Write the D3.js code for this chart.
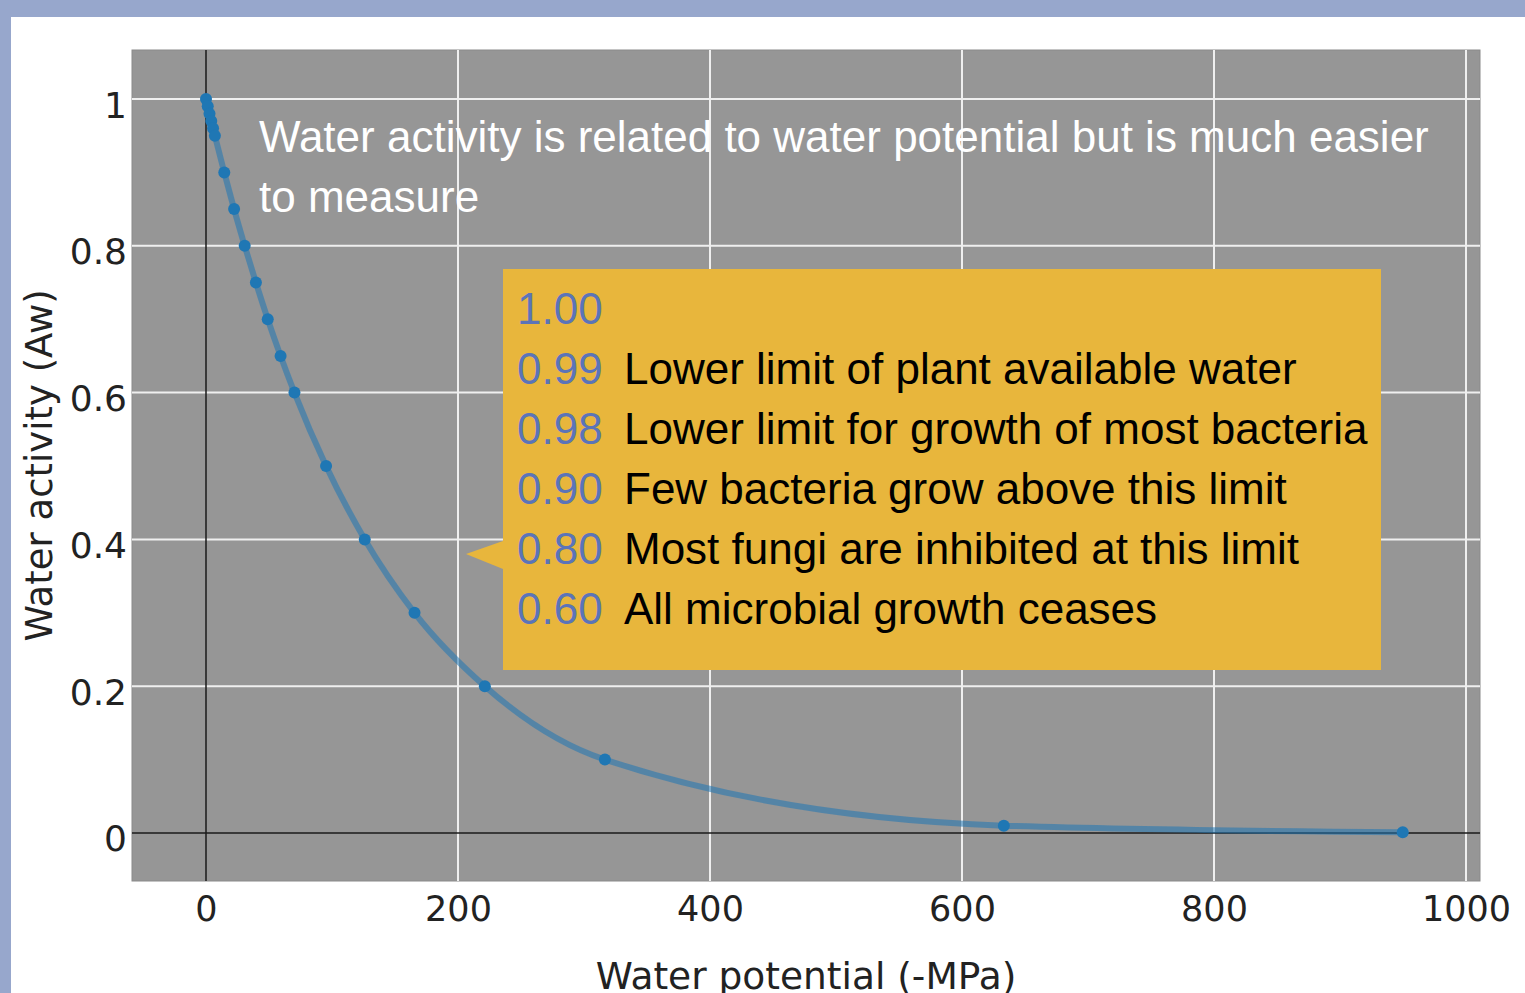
<!DOCTYPE html>
<html>
<head>
<meta charset="utf-8">
<script src="https://cdn.jsdelivr.net/npm/d3@7"></script>
<style>
  html, body { margin: 0; padding: 0; background: #97a7cc; }
  svg { display: block; }
</style>
</head>
<body>
<svg id="chart" width="1525" height="993"></svg>
<script>
// ---- Data ----
const waterPotential = [0, 1.38, 2.78, 4.19, 5.61, 7.05, 14.5, 22.3, 30.7, 39.6, 49.0, 59.2, 70.2, 95.3, 126.0, 165.5, 221.3, 316.6, 633.2, 949.8];
const waterActivity  = [1.00, 0.99, 0.98, 0.97, 0.96, 0.95, 0.90, 0.85, 0.80, 0.75, 0.70, 0.65, 0.60, 0.50, 0.40, 0.30, 0.20, 0.10, 0.01, 0.001];
const xTicks = [0, 200, 400, 600, 800, 1000];
const yTicks = [0, 0.2, 0.4, 0.6, 0.8, 1];
const yTickLabels = ["0", "0.2", "0.4", "0.6", "0.8", "1"];
const titleLines = ["Water activity is related to water potential but is much easier", "to measure"];
const boxValues = ["1.00", "0.99", "0.98", "0.90", "0.80", "0.60"];
const boxNotes = ["", "Lower limit of plant available water", "Lower limit for growth of most bacteria", "Few bacteria grow above this limit", "Most fungi are inhibited at this limit", "All microbial growth ceases"];

// ---- Layout ----
const svg = d3.select("#chart");
const plot = { left: 132, right: 1480, top: 50, bottom: 881 };

svg.append("rect").attr("x", 11).attr("y", 17).attr("width", 1525 - 11).attr("height", 993 - 17).attr("fill", "#ffffff");

const x = d3.scaleLinear().domain([-58.73, 1011.11]).range([plot.left, plot.right]);
const y = d3.scaleLinear().domain([1.06676, -0.06540]).range([plot.top, plot.bottom]);

svg.append("rect")
  .attr("x", plot.left).attr("y", plot.top)
  .attr("width", plot.right - plot.left).attr("height", plot.bottom - plot.top)
  .attr("fill", "#969696").attr("stroke", "#8a8a8a").attr("stroke-width", 1);

const clipId = "plotclip";
svg.append("clipPath").attr("id", clipId).append("rect")
  .attr("x", plot.left).attr("y", plot.top)
  .attr("width", plot.right - plot.left).attr("height", plot.bottom - plot.top);

// grid
const grid = svg.append("g");
grid.selectAll(".gx").data(xTicks.filter(d => d !== 0)).enter().append("line")
  .attr("x1", d => x(d)).attr("x2", d => x(d))
  .attr("y1", plot.top).attr("y2", plot.bottom)
  .attr("stroke", "#efefef").attr("stroke-width", 2);
grid.selectAll(".gy").data(yTicks.filter(d => d !== 0)).enter().append("line")
  .attr("y1", d => y(d)).attr("y2", d => y(d))
  .attr("x1", plot.left).attr("x2", plot.right)
  .attr("stroke", "#efefef").attr("stroke-width", 2);
// zero lines
grid.append("line").attr("x1", x(0)).attr("x2", x(0)).attr("y1", plot.top).attr("y2", plot.bottom)
  .attr("stroke", "#1a1a1a").attr("stroke-width", 1.5);
grid.append("line").attr("y1", y(0)).attr("y2", y(0)).attr("x1", plot.left).attr("x2", plot.right)
  .attr("stroke", "#1a1a1a").attr("stroke-width", 1.5);

// axes tick labels
const tickFont = "'DejaVu Sans', sans-serif";
const xAxis = d3.axisBottom(x).tickValues(xTicks).tickSize(0).tickPadding(0).tickFormat(d3.format("d"));
const gx = svg.append("g").attr("transform", `translate(0,${plot.bottom})`).call(xAxis);
gx.select(".domain").remove();
gx.selectAll("text").attr("font-family", tickFont).attr("font-size", 35).attr("fill", "#222")
  .attr("dy", null).attr("y", 40);

const yAxis = d3.axisLeft(y).tickValues(yTicks).tickSize(0).tickPadding(0).tickFormat((d, i) => yTickLabels[i]);
const gy = svg.append("g").attr("transform", `translate(${plot.left - 5},0)`).call(yAxis);
gy.select(".domain").remove();
gy.selectAll("text").attr("font-family", tickFont).attr("font-size", 36).attr("fill", "#222")
  .attr("dy", null).attr("y", 18).attr("x", 0);

// axis titles
svg.append("text").attr("x", (plot.left + plot.right) / 2).attr("y", 989)
  .attr("text-anchor", "middle").attr("font-family", tickFont).attr("font-size", 37.5).attr("fill", "#222")
  .text("Water potential (-MPa)");
svg.append("text").attr("transform", `translate(52,${(plot.top + plot.bottom) / 2}) rotate(-90)`)
  .attr("text-anchor", "middle").attr("font-family", tickFont).attr("font-size", 37).attr("fill", "#222")
  .text("Water activity (Aw)");

// curve + points
const pts = waterPotential.map((p, i) => [p, waterActivity[i]]);
const line = d3.line().x(d => x(d[0])).y(d => y(d[1])).curve(d3.curveMonotoneX);
const g = svg.append("g").attr("clip-path", `url(#${clipId})`);
g.append("path").datum(pts).attr("d", line)
  .attr("fill", "none").attr("stroke", "#1f77b4").attr("stroke-opacity", 0.55).attr("stroke-width", 6)
  .attr("stroke-linejoin", "round").attr("stroke-linecap", "round");
g.selectAll("circle").data(pts).enter().append("circle")
  .attr("cx", d => x(d[0])).attr("cy", d => y(d[1])).attr("r", 6).attr("fill", "#1f77b4");

// title annotation
const annFont = "'Liberation Sans', Arial, sans-serif";
svg.append("g").selectAll("text").data(titleLines).enter().append("text")
  .attr("x", 259).attr("y", (d, i) => 152 + i * 59.5)
  .attr("font-family", annFont).attr("font-size", 44).attr("fill", "#ffffff")
  .text(d => d);

// box annotation
const box = { x0: 503, x1: 1381, y0: 269, y1: 670 };
const ann = svg.append("g");
ann.append("path")
  .attr("d", `M${box.x0},541 L466,554 L${box.x0},569 Z`)
  .attr("fill", "#e8b63c");
ann.append("rect").attr("x", box.x0).attr("y", box.y0)
  .attr("width", box.x1 - box.x0).attr("height", box.y1 - box.y0)
  .attr("fill", "#e8b63c");
ann.selectAll(".bv").data(boxValues).enter().append("text")
  .attr("x", 517).attr("y", (d, i) => 324 + i * 60)
  .attr("font-family", annFont).attr("font-size", 44).attr("fill", "#5b74b8")
  .text(d => d);
ann.selectAll(".bn").data(boxNotes).enter().append("text")
  .attr("x", 624).attr("y", (d, i) => 324 + i * 60)
  .attr("font-family", annFont).attr("font-size", 44).attr("fill", "#000000")
  .text(d => d);
</script>
</body>
</html>
